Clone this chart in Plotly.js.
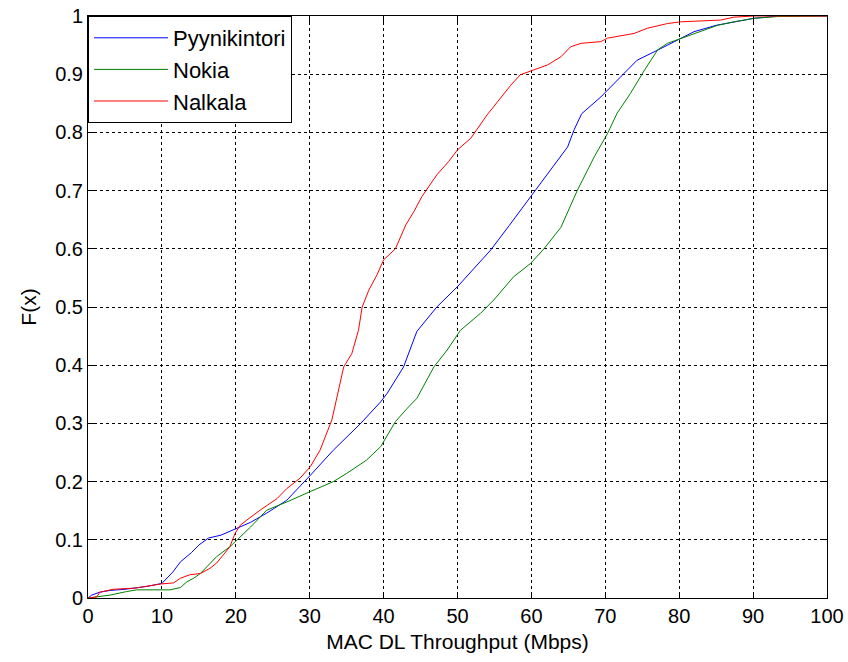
<!DOCTYPE html>
<html>
<head>
<meta charset="utf-8">
<script src="https://cdn.plot.ly/plotly-3.0.1.min.js"></script>
<style>html,body{margin:0;padding:0;background:#fff;}</style>
</head>
<body>
<div id="chart" style="width:848px;height:662px;"></div>
<script>
var seriesNames = ["Pyynikintori", "Nokia", "Nalkala"];
var seriesColors = ["#0000ff", "#008000", "#ff0000"];

var pyyX = [0,0.5,1.6,3,5,8,10,11.5,12.5,14,15,16.3,18,19.7,22,24.2,26.9,30.1,33.2,36.9,39.6,40.5,42.7,44.5,47.2,50,54.5,57,59.9,62.5,64.9,65.8,66.8,69.4,72.1,74.3,77.5,80,82,85,87.4,90.1,93.3,100];
var pyyY = [0,0.005,0.01,0.013,0.015,0.02,0.025,0.045,0.062,0.078,0.091,0.103,0.108,0.117,0.13,0.146,0.168,0.211,0.254,0.30,0.337,0.352,0.397,0.458,0.50,0.535,0.598,0.64,0.69,0.735,0.775,0.805,0.832,0.861,0.896,0.924,0.944,0.96,0.973,0.984,0.99,0.996,1,1];

var nokX = [0,1.6,3,5.2,6.6,11.1,12.5,13.4,14.3,15.2,16.1,17.4,19.2,20.6,22,24.2,26.9,30.1,33.2,35,37.7,39.6,41.6,43.2,44.5,46.8,48.6,50.4,53.1,54.9,57.6,59.9,61.7,64,65.3,66.2,68.5,70.3,71.6,73.4,75.3,77.1,78.4,82,85.2,87.4,90.1,93.3,100];
var nokY = [0,0.002,0.005,0.011,0.014,0.014,0.018,0.028,0.034,0.042,0.054,0.071,0.088,0.105,0.122,0.151,0.165,0.183,0.20,0.214,0.237,0.26,0.303,0.326,0.343,0.397,0.426,0.46,0.489,0.512,0.552,0.575,0.60,0.637,0.675,0.70,0.758,0.798,0.833,0.867,0.907,0.942,0.953,0.97,0.984,0.99,0.996,0.999,1];

var nalX = [0,1.2,1.6,3.4,6.4,9.8,11.6,12.5,13.8,15.2,16.5,17.4,18.3,19.2,19.9,20.6,21.5,23.3,25.6,26.9,28.7,30.1,31.4,32.3,33,33.6,34.6,35.7,36.6,37.1,38,39.1,40,41.6,43,44.1,45.2,47.2,48.8,50,51.8,54,55.8,57.2,58.5,60.3,62.2,64,65.3,66.7,69.4,70.3,73.9,75.7,78.4,80.2,85.6,87.4,90.1,100];
var nalY = [0,0.002,0.01,0.015,0.017,0.024,0.026,0.034,0.04,0.042,0.051,0.06,0.074,0.088,0.111,0.125,0.134,0.151,0.171,0.188,0.206,0.226,0.254,0.283,0.306,0.34,0.397,0.42,0.46,0.50,0.529,0.555,0.581,0.60,0.641,0.664,0.69,0.727,0.75,0.77,0.79,0.83,0.859,0.881,0.899,0.907,0.916,0.93,0.947,0.953,0.956,0.962,0.97,0.979,0.987,0.99,0.993,0.998,1,1];

var xs = [pyyX, nokX, nalX];
var ys = [pyyY, nokY, nalY];

var traces = seriesNames.map(function(n, i){
  return {x: xs[i], y: ys[i], name: n, type: 'scatter', mode: 'lines',
          line: {color: seriesColors[i], width: 1}};
});

var fontFam = 'Liberation Sans, Arial, sans-serif';
var axisCommon = {
  showline: true, linecolor: '#000', linewidth: 1, mirror: 'ticks',
  ticks: 'inside', ticklen: 6, tickcolor: '#000',
  showgrid: true, gridcolor: '#000', griddash: 'dot', gridwidth: 1,
  zeroline: false, tickfont: {family: fontFam, size: 20, color: '#000'}
};

var layout = {
  width: 848, height: 662,
  margin: {l: 88, r: 21, t: 16, b: 64},
  paper_bgcolor: '#fff', plot_bgcolor: '#fff',
  font: {family: fontFam, color: '#000'},
  xaxis: Object.assign({}, axisCommon, {
    range: [0, 100], dtick: 10,
    title: {text: 'MAC DL Throughput (Mbps)', font: {family: fontFam, size: 21, color: '#000'}, standoff: 8}
  }),
  yaxis: Object.assign({}, axisCommon, {
    range: [0, 1], dtick: 0.1,
    title: {text: 'F(x)', font: {family: fontFam, size: 21, color: '#000'}, standoff: 12}
  }),
  showlegend: true,
  legend: {x: 0, y: 1, xanchor: 'left', yanchor: 'top',
           bordercolor: '#000', borderwidth: 1, bgcolor: '#fff',
           font: {family: fontFam, size: 22, color: '#000'},
           itemwidth: 74}
};

Plotly.newPlot('chart', traces, layout, {displayModeBar: false, staticPlot: true});
</script>
</body>
</html>
